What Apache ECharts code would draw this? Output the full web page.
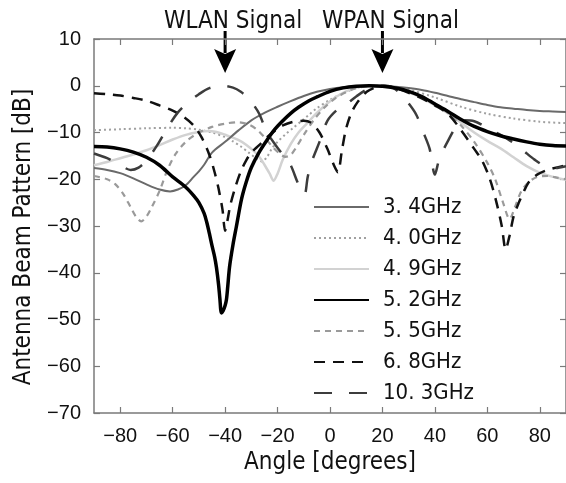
<!DOCTYPE html>
<html>
<head>
<meta charset="utf-8">
<script src="https://cdn.jsdelivr.net/npm/echarts@6/dist/echarts.min.js"></script>
<style>
  html, body { margin: 0; padding: 0; background: #fff; }
  #chart { width: 566px; height: 483px; }
</style>
</head>
<body>
<div id="chart"></div>
<script>
// beam pattern readings, angle [deg] -> level [dB]
const ang34 = [-90,-85,-80,-75,-70,-65,-61,-58,-55,-52,-50,-48,-45,-40,-35,-30,-25,-20,-15,-10,-5,0,5,10,15,20,25,30,35,40,45,50,55,60,65,70,75,80,85,90]
const db34  = [-17.6,-18,-18.7,-19.8,-21.1,-22.2,-22.6,-22.2,-21.3,-19.5,-18.3,-16.9,-14.3,-12,-9.6,-7.4,-5.8,-4.5,-3.3,-2.2,-1.3,-0.7,-0.3,-0.1,0,-0.05,-0.2,-0.5,-0.9,-1.5,-2.2,-2.9,-3.5,-4.1,-4.6,-4.9,-5.2,-5.4,-5.5,-5.6]

const ang40 = [-90,-80,-70,-60,-55,-50,-45,-40,-37,-34,-31,-28,-26,-24,-22,-20,-17,-14,-11,-8,-5,0,5,10,15,20,25,30,40,50,60,70,80,90]
const db40  = [-9.5,-9.3,-9.1,-9,-9.1,-9.4,-10,-11,-11.9,-13,-14.3,-15.6,-16.2,-15.2,-13.3,-12,-10.4,-9,-7.6,-6.2,-4.8,-3,-1.6,-0.5,0,-0.1,-0.3,-0.8,-2.5,-4.5,-6,-7,-7.7,-8]

const ang49 = [-90,-85,-80,-75,-70,-65,-60,-55,-50,-46,-42,-38,-35,-32,-29,-27,-25,-23,-21.5,-20,-18,-15,-12,-9,-5,0,5,10,15,20,25,30,35,40,45,50,55,60,65,70,75,80,85,90]
const db49  = [-17,-16.3,-15.5,-14.7,-13.8,-12.7,-11.5,-10.5,-9.9,-9.7,-10.1,-10.9,-11.6,-12.6,-14,-15.2,-16.9,-18.8,-20.3,-18.8,-15.8,-12.5,-10,-8.2,-5.8,-3.3,-1.5,-0.4,0,-0.1,-0.6,-1.4,-2.6,-4.2,-5.9,-7.9,-10,-11.8,-13.4,-15.3,-17.2,-18.6,-19.5,-20.1]

const ang52 = [-90,-85,-80,-75,-70,-65,-60,-55,-52,-50,-48,-47,-46,-45,-44,-43.3,-42.5,-42,-41.4,-40.8,-40,-39.5,-39,-38.3,-37,-35.7,-33.8,-32,-30,-27,-24,-21,-18,-15,-12,-8,-5,0,5,10,15,20,25,30,35,40,45,50,55,60,65,70,75,80,85,90]
const db52  = [-13,-13.1,-13.5,-14.2,-15.3,-17,-19.5,-21.7,-23.5,-25,-27.3,-29.2,-31.6,-34.2,-36.6,-38.9,-42.5,-45.5,-48.6,-48.2,-47,-45.8,-43,-38.7,-34,-30.1,-24.4,-20.7,-17.5,-14.2,-11.6,-9.3,-7.5,-5.9,-4.6,-3.2,-2.4,-1.2,-0.45,-0.1,0,-0.1,-0.5,-1.2,-2.3,-3.9,-5.5,-7.2,-8.7,-9.8,-10.7,-11.4,-12,-12.5,-12.8,-12.9]

const ang55 = [-90,-85,-82,-79,-76,-74,-72,-70,-68,-65,-62,-59,-55,-50,-45,-40,-35,-31,-28,-25,-22,-19,-17,-15,-13,-10,-6,-2,2,6,10,15,19,24,30,35,40,45,50,55,60,63,66,68.5,70.5,73,76,79,83,87,90]
const db55  = [-19.3,-20,-21,-23,-26,-28,-29,-28,-26,-22.5,-18,-14.7,-12,-10,-8.8,-8.1,-7.8,-8.3,-9.3,-11,-13,-14.6,-15.2,-14.8,-13.3,-10.5,-7.2,-4.6,-2.7,-1.4,-0.5,-0.05,0,-0.3,-1.2,-2.3,-3.8,-5.8,-8.5,-12,-16.5,-20,-25,-28.5,-26,-22.5,-20.5,-19.5,-19.3,-19.7,-20]

const ang68 = [-90,-85,-80,-75,-70,-65,-60,-56,-52,-49,-46,-44,-42.5,-41,-40,-39,-38,-36,-34,-32,-30,-27,-24,-21,-18,-14,-10,-7,-4,-1,1.5,3,4.5,6,8,10.5,14,18,21,25,30,35,40,45,50,55,58,61,63.5,65.5,67,68.5,70,72,74,76,79,83,90]
const db68  = [-1.6,-1.8,-2.1,-2.6,-3.2,-4.2,-5.3,-6.6,-8.5,-11,-14.8,-18.5,-22,-26.5,-31,-28.5,-25.5,-21.5,-18.3,-16,-14.3,-12.7,-11,-9.6,-8.5,-7.7,-7.5,-8,-10,-13.5,-17,-18.5,-14,-9.5,-6,-3.5,-1.3,-0.2,0,-0.5,-1.5,-2.7,-4.2,-6,-9.5,-13.5,-16,-20,-25,-30,-35,-32,-28,-25,-22.5,-20.5,-19,-18,-17]

const ang103 = [-90,-85,-80,-76,-73,-70,-66,-62,-58,-54,-50,-46,-41,-37,-34,-31,-29,-27,-24,-21,-17,-15,-12.5,-11,-9.7,-8.5,-7,-4,-1,3,6,10,14,18,22,26,30,33,36,38,40,41.5,43,45,48,51,55,60,65,70,74,78,82,86,90]
const db103  = [-14.5,-15.5,-17,-18,-17.5,-16,-12.8,-9,-5.7,-3.5,-1.8,-0.5,0,-0.4,-1.3,-2.8,-4.2,-6,-10,-12.5,-15.5,-17,-20.5,-22.3,-23.3,-19.5,-16.3,-12,-7.5,-5,-4,-2.3,-0.8,-0.05,-0.1,-1.2,-3.8,-6.3,-10.5,-13.5,-19,-16,-14,-11.8,-8.8,-7.4,-7.6,-9,-10.5,-12.2,-14,-15.8,-17.2,-17.6,-17.2]

const freqNames = ['3. 4GHz', '4. 0GHz', '4. 9GHz', '5. 2GHz', '5. 5GHz', '6. 8GHz', '10. 3GHz']
const xTicks = [-80, -60, -40, -20, 0, 20, 40, 60, 80]
const signalNames = ['WLAN Signal', 'WPAN Signal']
const signalAngles = [-40, 20]

const fontMain = '"DejaVu Sans Condensed", "DejaVu Sans", sans-serif'
const fontTick = '"Liberation Sans Narrow", "Liberation Sans", sans-serif'
const axisGray = '#7a7a7a'

const pairs = (a, d) => a.map((x, i) => [x, d[i]])
const minus = v => (v < 0 ? '\u2212' + Math.abs(v) : String(v))

// line look for each frequency
const looks = [
  { color: '#6a6a6a', width: 2, type: 'solid' },
  { color: '#a0a0a0', width: 2, type: [2, 3] },
  { color: '#d2d2d2', width: 2.5, type: 'solid' },
  { color: '#000000', width: 3.5, type: 'solid' },
  { color: '#9a9a9a', width: 2.2, type: [6, 5] },
  { color: '#111111', width: 2.5, type: [11, 8] },
  { color: '#3c3c3c', width: 2.5, type: [18, 17] }
]
const dataSets = [
  pairs(ang34, db34), pairs(ang40, db40), pairs(ang49, db49), pairs(ang52, db52),
  pairs(ang55, db55), pairs(ang68, db68), pairs(ang103, db103)
]

const chart = echarts.init(document.getElementById('chart'))

const axisX = (pos, show) => ({
  type: 'value', position: pos, min: -90, max: 90,
  axisLine: { show: true, onZero: false, lineStyle: { color: axisGray, width: 1.5 } },
  axisTick: { show: true, inside: true, length: 6, customValues: xTicks, lineStyle: { color: axisGray, width: 1.2 } },
  axisLabel: { show: show, customValues: xTicks, formatter: minus, margin: 13, color: '#111', fontSize: 20, fontFamily: fontTick },
  splitLine: { show: false }
})
const axisY = (pos, show) => ({
  type: 'value', position: pos, min: -70, max: 10, interval: 10,
  axisLine: { show: true, onZero: false, lineStyle: { color: axisGray, width: 1.5 } },
  axisTick: { show: true, inside: true, length: 6, lineStyle: { color: axisGray, width: 1.2 } },
  axisLabel: { show: show, formatter: minus, margin: 13, color: '#111', fontSize: 20, fontFamily: fontTick },
  splitLine: { show: false }
})

const xMain = axisX('bottom', true)
xMain.name = 'Angle [degrees]'
xMain.nameLocation = 'middle'
xMain.nameGap = 37
xMain.nameTextStyle = { fontSize: 24, color: '#111', fontFamily: fontMain }
const yMain = axisY('left', true)
yMain.name = 'Antenna Beam Pattern [dB]'
yMain.nameLocation = 'middle'
yMain.nameGap = 58
yMain.nameTextStyle = { fontSize: 24, color: '#111', fontFamily: fontMain, padding: [0, 22, 0, 0] }

chart.setOption({
  animation: false,
  backgroundColor: '#fff',
  grid: { left: 94, right: 0, top: 39, bottom: 70 },
  xAxis: [xMain, axisX('top', false)],
  yAxis: [yMain, axisY('right', false)],
  legend: {
    orient: 'vertical', left: 308, top: 191,
    itemWidth: 55, itemHeight: 14, itemGap: 9,
    itemStyle: { opacity: 0 },
    textStyle: { fontSize: 22, lineHeight: 22, color: '#111', fontFamily: fontMain, padding: [0, 0, 0, 9] },
    data: freqNames
  },
  series: freqNames.map((name, i) => ({
    name: name,
    type: 'line',
    xAxisIndex: 0, yAxisIndex: 0,
    data: dataSets[i],
    symbol: 'none',
    smooth: 0.3,
    lineStyle: { color: looks[i].color, width: looks[i].width, type: looks[i].type },
    itemStyle: { color: looks[i].color },
    z: [3, 2, 2, 4, 3, 3, 3][i]
  }))
})

// signal arrows above the plot
const graphics = []
signalNames.forEach((label, i) => {
  const p = chart.convertToPixel({ gridIndex: 0 }, [signalAngles[i], 10])
  const x = p[0], top = p[1]
  graphics.push({ type: 'text', x: x + 8, y: top - 17, style: { text: label, fontSize: 24, fontFamily: fontMain, fill: '#111', align: 'center', verticalAlign: 'middle' } })
  graphics.push({ type: 'line', shape: { x1: x, y1: top - 8, x2: x, y2: top + 14 }, style: { stroke: '#000', lineWidth: 3 } })
  graphics.push({ type: 'polygon', shape: { points: [[x - 11, top + 10], [x, top + 15], [x + 11, top + 10], [x, top + 34]] }, style: { fill: '#000' } })
})
chart.setOption({ graphic: graphics })
</script>
</body>
</html>
